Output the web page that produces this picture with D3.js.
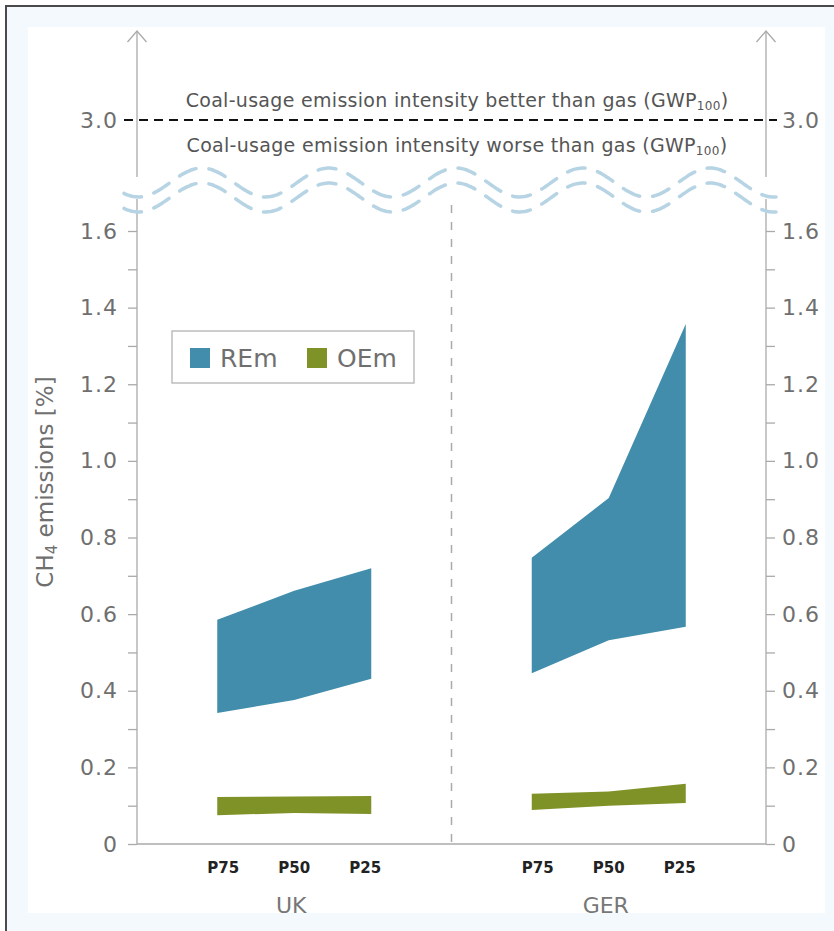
<!DOCTYPE html>
<html>
<head>
<meta charset="utf-8">
<script src="https://cdn.jsdelivr.net/npm/d3@7"></script>
<style>
  body { margin: 0; background: #fff; }
  svg { display: block; }
  text { font-family: "DejaVu Sans", sans-serif; }
</style>
</head>
<body>
<svg id="chart" width="834" height="931"></svg>
<script>
// categories
const countries = ["UK", "GER"];
const percentiles = ["P75", "P50", "P25"];

// CH4 emission ranges [%] (P75, P50, P25)
const ukREmLow = [0.342, 0.376, 0.431];
const ukREmHigh = [0.585, 0.661, 0.720];
const ukOEmLow = [0.075, 0.081, 0.078];
const ukOEmHigh = [0.123, 0.124, 0.125];
const gerREmLow = [0.446, 0.532, 0.567];
const gerREmHigh = [0.747, 0.903, 1.357];
const gerOEmLow = [0.089, 0.100, 0.107];
const gerOEmHigh = [0.131, 0.137, 0.157];

// axis ticks
const yTicks = [0, 0.2, 0.4, 0.6, 0.8, 1.0, 1.2, 1.4, 1.6];
const yMinorTicks = [0.1, 0.3, 0.5, 0.7, 0.9, 1.1, 1.3, 1.5];
const thresholdValue = 3.0;
const thresholdLabels = ["Coal-usage emission intensity better than gas (GWP", "Coal-usage emission intensity worse than gas (GWP"];
const legendItems = ["REm", "OEm"];

const colors = { REm: "#418dab", OEm: "#7f9228" };

const series = [
  { country: "UK", type: "REm", low: ukREmLow, high: ukREmHigh },
  { country: "UK", type: "OEm", low: ukOEmLow, high: ukOEmHigh },
  { country: "GER", type: "REm", low: gerREmLow, high: gerREmHigh },
  { country: "GER", type: "OEm", low: gerOEmLow, high: gerOEmHigh }
];

const svg = d3.select("#chart");

// background frame
svg.append("rect").attr("x", 0).attr("y", 0).attr("width", 834).attr("height", 931).attr("fill", "#fff");
svg.append("rect").attr("x", 7).attr("y", 7).attr("width", 827).attr("height", 924).attr("fill", "#f3f9fc");
svg.append("rect").attr("x", 28).attr("y", 27).attr("width", 797).attr("height", 886).attr("fill", "#fff");
svg.append("path").attr("d", "M6,931V6H834").attr("fill", "none").attr("stroke", "#4a4a4a").attr("stroke-width", 2);

// scales
const left = 137, right = 766;
const x0 = d3.scaleBand().domain(countries).range([left, right]);
const xInner = d3.scalePoint().domain(percentiles).range([-77, 77]);
const xLabel = d3.scalePoint().domain(percentiles).range([-71, 71]);
const y = d3.scaleLinear().domain([0, 1.6]).range([844, 231]);
const yTop = d3.scaleLinear().domain([3.0, 3.5]).range([120, 31]);

const xPos = (c, p) => x0(c) + x0.bandwidth() / 2 + xInner(p);

// divider between countries
svg.append("line")
  .attr("x1", x0("GER")).attr("x2", x0("GER"))
  .attr("y1", 205).attr("y2", y(0))
  .attr("stroke", "#aaa").attr("stroke-width", 1.5)
  .attr("stroke-dasharray", "8 9");

// ranges
const area = d3.area()
  .x(d => d.x)
  .y0(d => y(d.low))
  .y1(d => y(d.high));

svg.selectAll("path.range")
  .data(series)
  .enter()
  .append("path")
  .attr("class", "range")
  .attr("d", s => area(percentiles.map((p, i) => ({ x: xPos(s.country, p), low: s.low[i], high: s.high[i] }))))
  .attr("fill", s => colors[s.type]);

// axes
const allTicks = yTicks.concat(yMinorTicks).sort((a, b) => a - b);
const fmt = d => d === 0 ? "0" : (yTicks.includes(d) ? d3.format(".1f")(d) : "");

const axL = svg.append("g")
  .attr("transform", "translate(" + left + ",0)")
  .call(d3.axisLeft(y).tickValues(allTicks).tickFormat(fmt).tickSize(9).tickPadding(10));
const axR = svg.append("g")
  .attr("transform", "translate(" + right + ",0)")
  .call(d3.axisRight(y).tickValues(allTicks).tickFormat(fmt).tickSize(9).tickPadding(7));

[axL, axR].forEach(ax => {
  ax.select(".domain").remove();
  ax.selectAll(".tick line").attr("stroke", "#aaa").attr("stroke-width", 1.3);
  ax.selectAll(".tick text")
    .attr("fill", "#6f6f6f")
    .style("font-size", "22px")
    .style("letter-spacing", "1px");
});

// broken vertical axis lines with arrowheads
[left, right].forEach(xx => {
  svg.append("line").attr("x1", xx).attr("x2", xx)
    .attr("y1", yTop(3.5)).attr("y2", 177)
    .attr("stroke", "#aaa").attr("stroke-width", 1.3);
  svg.append("line").attr("x1", xx).attr("x2", xx)
    .attr("y1", 199).attr("y2", y(0))
    .attr("stroke", "#aaa").attr("stroke-width", 1.3);
  svg.append("path")
    .attr("d", "M" + (xx - 9.5) + "," + (yTop(3.5) + 11) + "L" + xx + "," + yTop(3.5) + "L" + (xx + 9.5) + "," + (yTop(3.5) + 11))
    .attr("fill", "none").attr("stroke", "#aaa").attr("stroke-width", 1.3);
});

// baseline
svg.append("line").attr("x1", left).attr("x2", right)
  .attr("y1", y(0)).attr("y2", y(0))
  .attr("stroke", "#aaa").attr("stroke-width", 1.5);

// threshold line
svg.append("line").attr("x1", 124).attr("x2", 777)
  .attr("y1", yTop(thresholdValue)).attr("y2", yTop(thresholdValue))
  .attr("stroke", "#111").attr("stroke-width", 2)
  .attr("stroke-dasharray", "9 6");
svg.append("text").attr("x", left - 19).attr("y", yTop(thresholdValue)).attr("dy", "0.35em")
  .attr("text-anchor", "end").attr("fill", "#6f6f6f")
  .style("font-size", "22px").style("letter-spacing", "1px")
  .text(d3.format(".1f")(thresholdValue));
svg.append("text").attr("x", right + 16).attr("y", yTop(thresholdValue)).attr("dy", "0.35em")
  .attr("text-anchor", "start").attr("fill", "#6f6f6f")
  .style("font-size", "22px").style("letter-spacing", "1px")
  .text(d3.format(".1f")(thresholdValue));

[107, 152].forEach((ty, i) => {
  const t = svg.append("text")
    .attr("x", 457).attr("y", ty)
    .attr("text-anchor", "middle")
    .attr("fill", "#555")
    .style("font-size", "19px")
    .style("letter-spacing", "0.3px");
  t.append("tspan").text(thresholdLabels[i]);
  t.append("tspan").attr("dy", 3).style("font-size", "12px").text("100");
  t.append("tspan").attr("dy", -3).text(")");
});

// axis break waves
const waveX = d3.range(124, 777, 2);
const wave = off => d3.line()
  .x(d => d)
  .y(d => 182.5 + off - 14.5 * Math.cos(2 * Math.PI * (d - 202) / 127))
  .curve(d3.curveBasis)(waveX);
[0, 15].forEach(off => {
  svg.append("path")
    .attr("d", wave(off))
    .attr("fill", "none")
    .attr("stroke", "#b7d4e4")
    .attr("stroke-width", 3.5)
    .attr("stroke-linecap", "round")
    .attr("stroke-dasharray", "18 13");
});

// legend
svg.append("rect").attr("x", 172).attr("y", 331).attr("width", 242).attr("height", 52)
  .attr("fill", "#fff").attr("stroke", "#bdbdbd").attr("stroke-width", 1.5);
const lg = svg.selectAll("g.leg")
  .data(legendItems)
  .enter()
  .append("g")
  .attr("class", "leg")
  .attr("transform", (d, i) => "translate(" + (190 + i * 117) + ",348)");
lg.append("rect").attr("width", 20).attr("height", 20).attr("fill", d => colors[d]);
lg.append("text").attr("x", 30).attr("y", 18.5)
  .attr("fill", "#6f6f6f").style("font-size", "25px")
  .text(d => d);

// category labels
countries.forEach(c => {
  percentiles.forEach(p => {
    svg.append("text")
      .attr("x", x0(c) + x0.bandwidth() / 2 + xLabel(p))
      .attr("y", 873)
      .attr("text-anchor", "middle")
      .attr("fill", "#222")
      .style("font-size", "15px")
      .style("font-weight", "bold")
      .text(p);
  });
  svg.append("text")
    .attr("x", x0(c) + x0.bandwidth() / 2 - 3)
    .attr("y", 913)
    .attr("text-anchor", "middle")
    .attr("fill", "#777")
    .style("font-size", "22px")
    .text(c);
});

// y axis title
const yt = svg.append("text")
  .attr("transform", "translate(53,482) rotate(-90)")
  .attr("text-anchor", "middle")
  .attr("fill", "#6f6f6f")
  .style("font-size", "23px");
yt.append("tspan").text("CH");
yt.append("tspan").attr("dy", 4).style("font-size", "15px").text("4");
yt.append("tspan").attr("dy", -4).text(" emissions [%]");
</script>
</body>
</html>
